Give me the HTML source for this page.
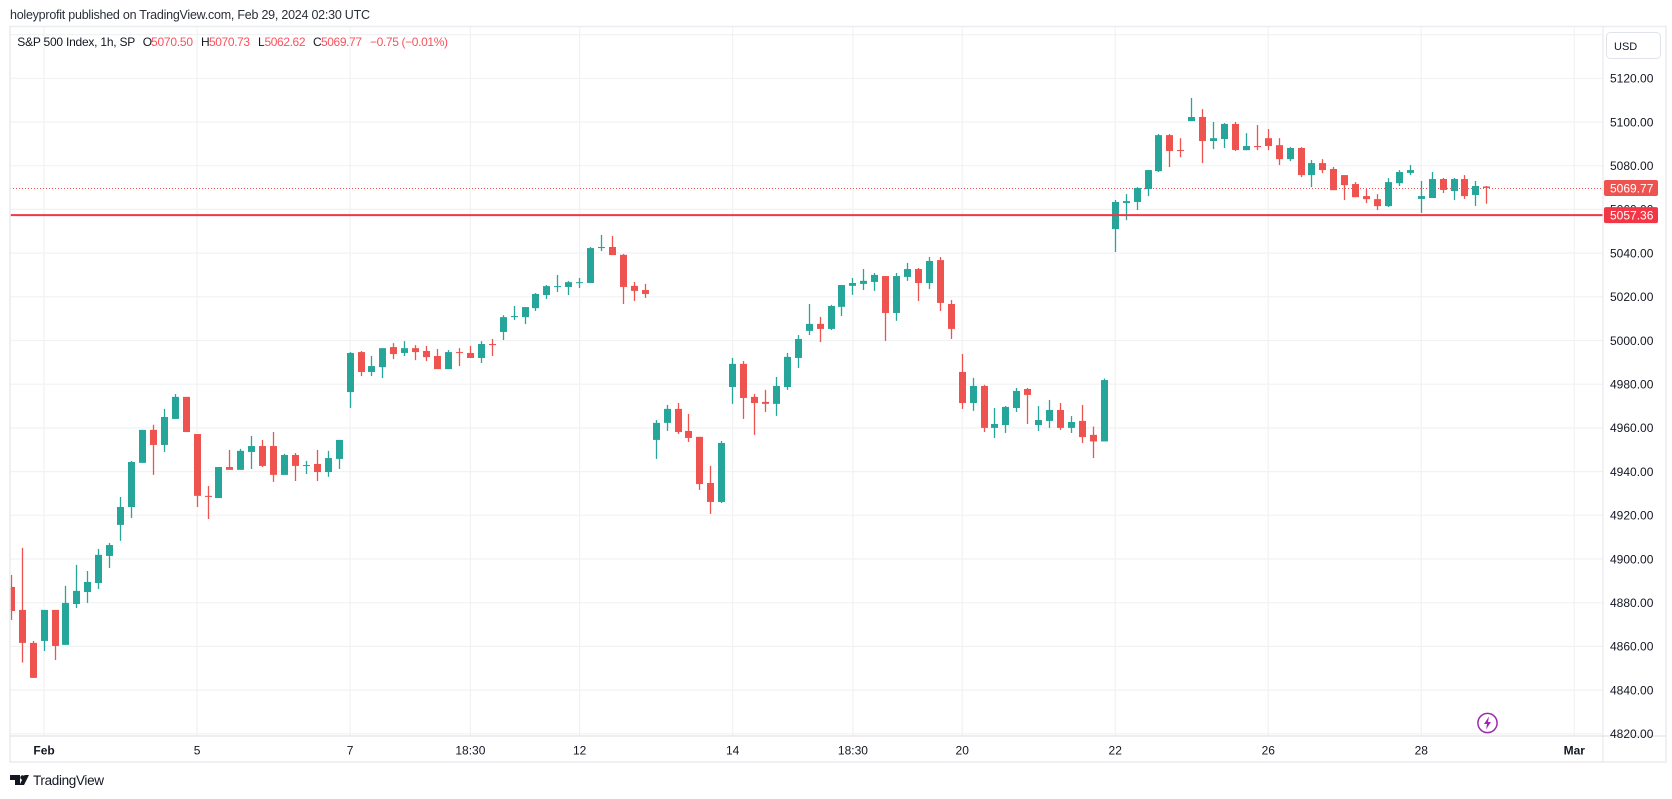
<!DOCTYPE html>
<html lang="en">
<head>
<meta charset="utf-8">
<title>S&amp;P 500 Index, 1h</title>
<style>
html,body{margin:0;padding:0;background:#fff;width:1672px;height:799px;overflow:hidden}
svg{display:block;font-family:"Liberation Sans",sans-serif}
</style>
</head>
<body>
<svg id="chart" xmlns="http://www.w3.org/2000/svg" width="1672" height="799" viewBox="0 0 1672 799">
  <rect x="0" y="0" width="1672" height="799" fill="#ffffff"/>
  <text x="10" y="19" font-size="12.5" fill="#2a2e39" textLength="360" lengthAdjust="spacing">holeyprofit published on TradingView.com, Feb 29, 2024 02:30 UTC</text>
  <g id="grid"></g>
  <g id="refs"></g>
  <defs><clipPath id="pane"><rect x="10" y="27" width="1593" height="709"/></clipPath></defs>
  <g id="candles" clip-path="url(#pane)"></g>
  <g id="alert"></g>
  <rect x="10" y="26.5" width="1656" height="735.5" fill="none" stroke="#ecedf2" stroke-width="1.6"/>
  <line x1="1603" y1="27" x2="1603" y2="762" stroke="#e4e5ea" stroke-width="1"/>
  <line x1="10" y1="736" x2="1666" y2="736" stroke="#dcdde1" stroke-width="1"/>
  <g id="priceAxis" font-size="12" fill="#131722"></g>
  <g id="timeAxis" font-size="12" fill="#131722" text-anchor="middle"></g>
  <g id="labels" font-size="12"></g>
  <g font-size="12">
    <text x="17.3" y="46" fill="#131722" textLength="118" lengthAdjust="spacing">S&amp;P 500 Index, 1h, SP</text>
    <text x="142.7" y="46" fill="#131722">O</text>
    <text x="151" y="46" fill="#f7525f" textLength="42" lengthAdjust="spacing">5070.50</text>
    <text x="201" y="46" fill="#131722">H</text>
    <text x="209" y="46" fill="#f7525f" textLength="41" lengthAdjust="spacing">5070.73</text>
    <text x="258" y="46" fill="#131722">L</text>
    <text x="264.5" y="46" fill="#f7525f" textLength="41" lengthAdjust="spacing">5062.62</text>
    <text x="313" y="46" fill="#131722">C</text>
    <text x="321" y="46" fill="#f7525f" textLength="41" lengthAdjust="spacing">5069.77</text>
    <text x="370" y="46" fill="#f7525f" textLength="78" lengthAdjust="spacing">−0.75 (−0.01%)</text>
  </g>
  <g>
    <rect x="1606.5" y="32.5" width="54" height="26" rx="4" fill="#fff" stroke="#e0e3eb"/>
    <text x="1614" y="50" font-size="11" fill="#131722">USD</text>
  </g>
  <g>
    <circle cx="1487.5" cy="723" r="9.6" fill="#fff" stroke="#9c27b0" stroke-width="1.5"/>
    <polygon points="1489,716.5 1484,724 1487,724 1486,729.5 1491,722 1488,722" fill="#9c27b0"/>
  </g>
  <g>
    <path fill="#131722" d="M10 775h10v10h-5v-5h-5z"/>
    <circle cx="22.5" cy="777.5" r="2.2" fill="#131722"/>
    <polygon points="24.5,775 29,775 24,785 19.5,785" fill="#131722"/>
    <text x="33" y="785" font-size="13.5" fill="#131722" textLength="71" lengthAdjust="spacing">TradingView</text>
  </g>
</svg>
<script>
const opens = [4887.2,4876.7,4861.6,4862.5,4876.7,4860.7,4879.4,4884.9,4889.0,4901.4,
4915.6,4923.8,4944.0,4959.1,4952.2,4964.1,4974.2,4957.2,4928.9,4927.9,
4942.1,4940.8,4949.0,4951.7,4951.7,4938.5,4947.6,4942.6,4943.5,4939.8,
4945.8,4976.4,4994.7,4985.6,4987.8,4997.0,4994.3,4996.5,4995.2,4992.9,
4986.9,4994.7,4994.3,4992.0,4998.4,5003.9,5010.7,5010.7,5014.8,5020.8,
5024.5,5024.5,5026.3,5026.3,5042.3,5042.8,5039.2,5025.0,5023.1,4954.5,
4962.3,4968.7,4958.6,4955.9,4934.8,4926.1,4978.7,4989.3,4974.2,4971.9,
4971.0,4978.7,4992.0,5004.4,5007.6,5005.3,5015.4,5025.0,5025.9,5026.8,
5029.5,5012.6,5029.1,5032.7,5026.3,5036.8,5016.7,4985.6,4971.4,4979.2,
4960.0,4961.3,4969.1,4977.8,4961.3,4963.2,4968.2,4960.0,4963.2,4956.8,
4953.8,5051.0,5062.9,5063.4,5069.3,5077.5,5094.0,5087.2,5100.4,5102.3,
5091.3,5092.2,5099.1,5087.1,5089.0,5092.6,5089.4,5083.0,5088.1,5075.7,
5081.2,5078.5,5075.7,5071.6,5066.1,5064.7,5061.5,5072.0,5076.7,5064.8,
5065.2,5073.9,5068.4,5073.9,5066.6,5070.50];
const highs = [4892.7,4905.1,4862.5,4876.7,4876.7,4887.7,4897.3,4894.5,4904.6,4907.3,
4928.4,4944.9,4959.1,4961.4,4968.7,4975.5,4974.2,4957.2,4933.4,4942.1,
4949.9,4950.4,4956.3,4954.5,4958.1,4948.1,4948.5,4944.9,4949.9,4949.5,
4954.5,4994.7,4995.2,4992.9,4996.5,4998.8,4999.7,4997.9,4997.5,4996.1,
4995.6,4996.5,4997.5,4999.7,5000.7,5011.6,5015.8,5015.3,5021.7,5025.4,
5030.0,5027.2,5028.6,5042.8,5048.3,5047.8,5039.6,5026.8,5025.9,4963.6,
4970.5,4971.4,4966.4,4955.9,4942.6,4954.0,4992.0,4990.6,4975.5,4977.4,
4983.3,4994.3,5002.5,5016.7,5010.8,5016.3,5025.4,5028.6,5032.7,5030.9,
5029.5,5030.9,5035.5,5033.2,5038.2,5038.2,5018.5,4993.8,4982.9,4979.7,
4969.1,4970.0,4978.3,4978.3,4970.0,4972.8,4971.4,4965.4,4970.5,4960.6,
4982.6,5064.3,5067.0,5070.2,5078.0,5094.5,5094.5,5092.6,5111.0,5105.9,
5100.0,5099.5,5100.0,5094.9,5098.6,5096.8,5092.6,5088.5,5088.5,5082.6,
5083.0,5079.4,5075.7,5072.5,5069.3,5067.0,5074.3,5078.0,5080.3,5073.0,
5077.1,5074.4,5074.4,5075.7,5073.0,5070.73];
const lows = [4872.1,4852.6,4845.6,4857.9,4853.8,4860.7,4877.6,4879.9,4886.3,4895.9,
4908.3,4918.8,4944.0,4938.5,4949.0,4964.1,4958.1,4923.8,4918.3,4927.9,
4940.8,4940.8,4941.2,4942.1,4935.3,4938.5,4935.7,4938.9,4935.7,4937.6,
4941.2,4969.1,4983.7,4983.7,4982.8,4991.5,4992.9,4991.0,4990.6,4986.9,
4986.9,4988.3,4992.0,4989.7,4992.9,5000.2,5009.4,5007.5,5013.5,5019.0,
5022.2,5020.8,5024.0,5026.3,5040.9,5039.1,5016.7,5018.1,5019.5,4945.8,
4958.6,4957.2,4953.6,4931.6,4920.6,4925.6,4971.0,4964.1,4956.8,4967.3,
4965.5,4977.4,4987.4,5002.5,4999.3,5004.8,5011.2,5020.9,5023.1,5022.7,
4999.8,5009.0,5027.3,5018.1,5023.6,5013.5,5000.7,4968.7,4967.8,4958.1,
4955.4,4957.7,4967.3,4961.8,4958.6,4960.0,4959.1,4957.7,4953.1,4946.2,
4953.8,5040.5,5055.1,5059.7,5066.1,5077.1,5079.4,5083.9,5100.4,5081.2,
5087.6,5088.1,5086.7,5087.1,5087.1,5087.1,5080.3,5082.1,5074.8,5070.2,
5076.6,5068.8,5064.3,5065.6,5062.9,5059.7,5061.1,5070.7,5075.7,5058.4,
5065.2,5067.5,5064.3,5064.8,5061.6,5062.62];
const closes = [4876.2,4861.6,4845.6,4876.7,4860.2,4879.9,4885.4,4889.5,4901.9,4906.4,
4923.8,4944.4,4959.1,4952.2,4965.0,4974.2,4958.1,4928.9,4928.4,4942.1,
4940.8,4949.5,4951.7,4942.6,4938.5,4947.6,4942.6,4943.0,4939.8,4946.2,
4954.5,4994.3,4985.6,4988.3,4996.5,4993.8,4996.5,4994.7,4992.4,4986.9,
4994.7,4994.3,4992.0,4998.4,4997.9,5010.7,5011.2,5015.3,5021.3,5024.9,
5024.9,5026.7,5026.7,5042.3,5042.8,5039.1,5024.5,5022.7,5021.3,4962.3,
4968.7,4958.1,4955.4,4934.3,4926.1,4953.1,4989.3,4973.7,4971.4,4971.0,
4979.2,4992.5,5000.7,5007.6,5005.3,5015.8,5025.4,5026.3,5027.3,5030.0,
5012.6,5029.5,5032.7,5026.3,5036.4,5017.2,5005.3,4971.4,4979.2,4960.0,
4961.8,4969.6,4976.9,4975.1,4963.6,4968.2,4960.0,4962.7,4955.8,4953.8,
4981.9,5063.4,5063.8,5069.8,5078.0,5094.0,5086.7,5086.7,5102.3,5091.3,
5092.6,5099.1,5087.2,5089.0,5088.5,5089.0,5083.0,5088.1,5075.7,5081.2,
5078.0,5068.8,5071.1,5065.6,5064.7,5061.5,5072.5,5077.1,5078.0,5066.1,
5073.9,5068.9,5073.9,5066.1,5070.7,5069.77];
const gridPrices = [5140,5120,5100,5080,5060,5040,5020,5000,4980,4960,4940,4920,4900,4880,4860,4840,4820];
const priceTickLabels = ["5120.00","5100.00","5080.00","5060.00","5040.00","5020.00","5000.00","4980.00","4960.00","4940.00","4920.00","4900.00","4880.00","4860.00","4840.00","4820.00"];
const timeTickIndexes = [3,17,31,42,52,66,77,87,101,115,129,143];
const timeTickLabels = ["Feb","5","7","18:30","12","14","18:30","20","22","26","28","Mar"];
const boldTimeTicks = ["Feb","Mar"];
const lastPrice = 5069.77;
const alertPrice = 5057.36;

const SVGNS = 'http://www.w3.org/2000/svg';
function xAt(i){ return 11.3 + 10.93 * i; }
function yAt(p){ return 78.3 + (5120 - p) * 2.185; }
function make(tag, attrs, parent){
  const el = document.createElementNS(SVGNS, tag);
  for (const k in attrs) el.setAttribute(k, attrs[k]);
  parent.appendChild(el);
  return el;
}
const gGrid = document.getElementById('grid');
const gRefs = document.getElementById('refs');
const gCandles = document.getElementById('candles');
const gAlert = document.getElementById('alert');
const gPrice = document.getElementById('priceAxis');
const gTime = document.getElementById('timeAxis');
const gLabels = document.getElementById('labels');

gridPrices.forEach(function(p){
  const l = make('line', {x1:10, x2:1603, y1:yAt(p), y2:yAt(p), stroke:'#f1f2f4', 'stroke-width':1.2}, gGrid);
  
  
});
timeTickIndexes.forEach(function(i){
  const l = make('line', {x1:xAt(i), x2:xAt(i), y1:27, y2:736, stroke:'#f1f2f4', 'stroke-width':1.2}, gGrid);
  
  
});

opens.forEach(function(o, i){
  const c = closes[i], h = highs[i], lo = lows[i];
  const col = c >= o ? '#26a69a' : '#ef5350';
  const left = Math.round(xAt(i) - 3.5);
  const g = make('g', {fill:col}, gCandles);
  
  
  const wick = make('rect', {x:left + 2.85, y:yAt(h), width:1.3, height:Math.max(1, yAt(lo) - yAt(h))}, g);
  
  
  const top = yAt(Math.max(o, c));
  const body = make('rect', {x:left, y:top, width:7, height:Math.max(1, yAt(Math.min(o, c)) - top)}, g);
  
  
});

const lastY = Math.floor(yAt(lastPrice)) + 0.5;
const lastLine = make('line', {x1:10, x2:1603, y1:lastY, y2:lastY, stroke:'#ef5350', 'stroke-width':1, 'stroke-dasharray':'1 2'}, gRefs);


const alertLine = make('line', {x1:10, x2:1603, y1:yAt(alertPrice), y2:yAt(alertPrice), stroke:'#f23645', 'stroke-width':2}, gAlert);



priceTickLabels.forEach(function(t){
  const el = make('text', {x:1610, y:yAt(parseFloat(t)) + 4.3}, gPrice);
  el.textContent = t;
  
  
});
timeTickLabels.forEach(function(t, n){
  const el = make('text', {x:xAt(timeTickIndexes[n]), y:754.5}, gTime);
  el.textContent = t;
  if (boldTimeTicks.indexOf(t) >= 0) el.setAttribute('font-weight', 'bold');
  
  
});

function priceTag(p, fill, name){
  const y = yAt(p);
  const box = make('rect', {x:1604, y:y - 8, width:54, height:16, rx:2, fill:fill}, gLabels);
  
  
  const txt = make('text', {x:1610, y:y + 4.3, fill:'#ffffff'}, gLabels);
  txt.textContent = p.toFixed(2);
  
  
}
priceTag(lastPrice, '#ef5350', 'last-price-tag');
priceTag(alertPrice, '#f23645', 'level-price-tag');
</script>
</body>
</html>
